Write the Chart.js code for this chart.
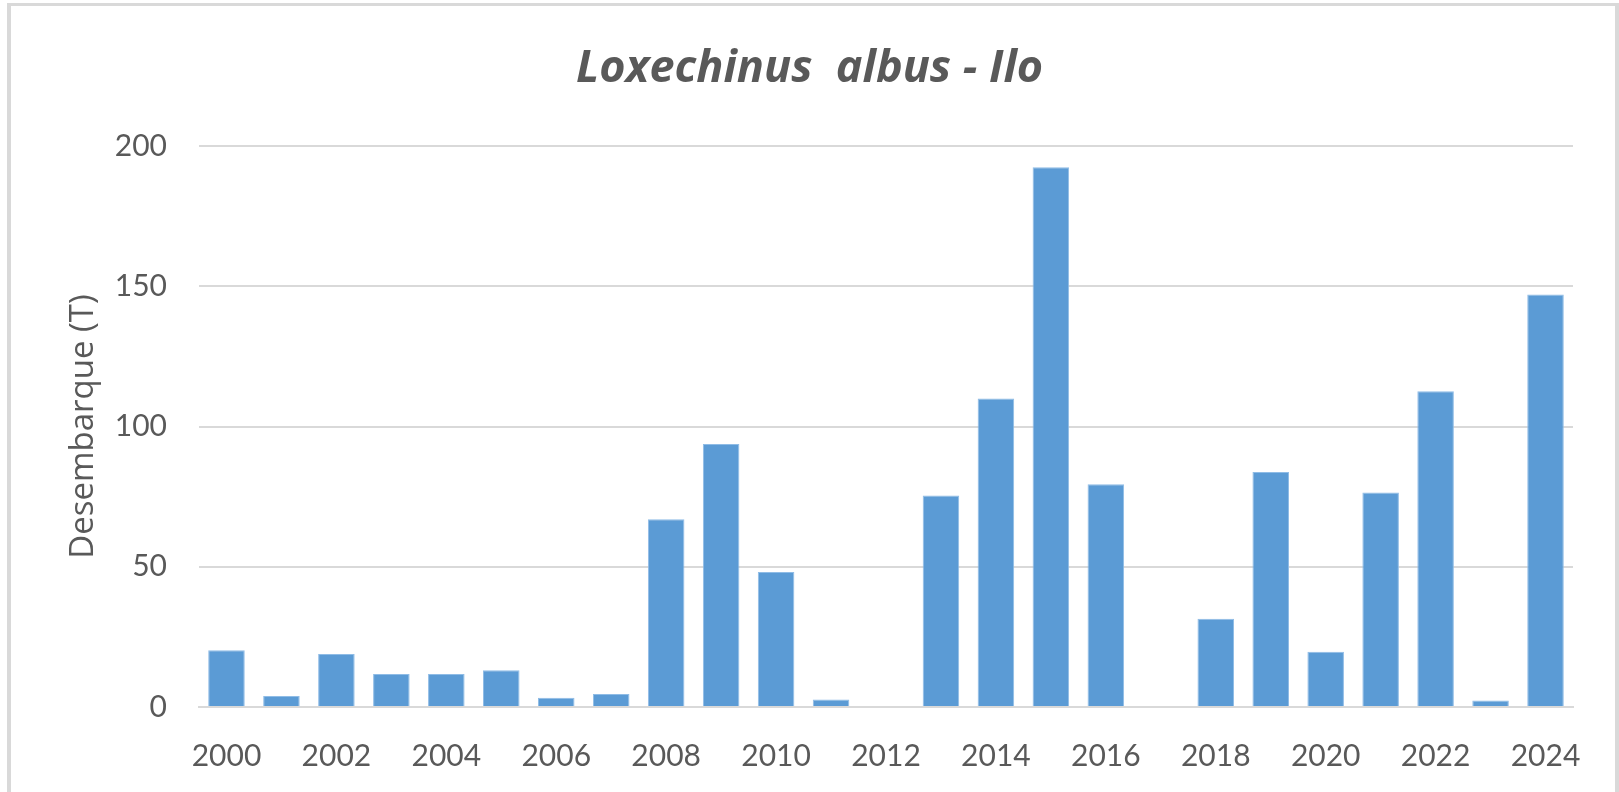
<!DOCTYPE html>
<html>
<head>
<meta charset="utf-8">
<script src="https://cdn.jsdelivr.net/npm/chart.js@4/dist/chart.umd.min.js"></script>
<style>
  html, body { margin: 0; padding: 0; background: #ffffff; overflow: hidden; }
  #frame { position: absolute; left: 7px; top: 3px; width: 1604px; height: 820px;
           border-left: 4px solid #d9d9d9; border-top: 3px solid #d9d9d9; border-right: 4px solid #d9d9d9; }
  #wrap { position: absolute; left: 0; top: 0; width: 1619px; height: 792px; }
</style>
</head>
<body>
<div id="frame"></div>
<div id="wrap"><canvas id="c" width="1619" height="792"></canvas></div>
<script>
const titleText = "Loxechinus  albus - Ilo";
const yAxisTitle = "Desembarque (T)";
const years = ["2000","2001","2002","2003","2004","2005","2006","2007","2008","2009","2010","2011","2012",
               "2013","2014","2015","2016","2017","2018","2019","2020","2021","2022","2023","2024"];
const landings = [20.2, 3.9, 18.9, 11.8, 11.8, 13.1, 3.3, 4.6, 66.9, 93.8, 48.1, 2.7, 0,
                  75.4, 110, 192.4, 79.4, 0, 31.5, 83.8, 19.7, 76.5, 112.6, 2.3, 147.1];
const yTicks = [0, 50, 100, 150, 200];

const textColor = "#595959";
const gridColor = "#d9d9d9";

new Chart(document.getElementById("c"), {
  type: "bar",
  data: {
    labels: years,
    datasets: [{
      data: landings,
      backgroundColor: "#5b9bd5",
      borderColor: "#8fbce6",
      borderWidth: 1,
      barPercentage: 0.665,
      categoryPercentage: 1.0
    }]
  },
  options: {
    responsive: false,
    animation: false,
    devicePixelRatio: 1,
    layout: { padding: { left: 46, right: 46, top: 0, bottom: 0 } },
    plugins: {
      legend: { display: false },
      tooltip: { enabled: false },
      title: {
        display: true,
        text: titleText,
        color: textColor,
        font: { family: "'Open Sans'", size: 45, style: "italic", weight: "bold", lineHeight: 1.2 },
        padding: { top: 42, bottom: 50 }
      }
    },
    scales: {
      x: {
        grid: { display: false, drawTicks: false },
        border: { display: true, color: gridColor, width: 2 },
        ticks: {
          color: textColor,
          font: { family: "Lato", size: 30 },
          padding: 31,
          autoSkip: false,
          maxRotation: 0,
          minRotation: 0,
          callback: function(v, i) { return i % 2 === 0 ? years[i] : ""; }
        },
        afterFit: function(s) { s.height = 85; }
      },
      y: {
        min: 0,
        max: 200,
        afterBuildTicks: function(s) { s.ticks = yTicks.map(v => ({ value: v })); },
        grid: { color: gridColor, lineWidth: 2, drawTicks: false },
        border: { display: false },
        ticks: {
          color: textColor,
          font: { family: "Lato", size: 30 },
          padding: 32
        },
        title: {
          display: true,
          text: yAxisTitle,
          color: textColor,
          font: { family: "'Open Sans'", size: 33, lineHeight: 1.2 },
          padding: { top: 18, bottom: 0 }
        },
        afterFit: function(s) { s.width = 153; }
      }
    }
  }
});
</script>
</body>
</html>
